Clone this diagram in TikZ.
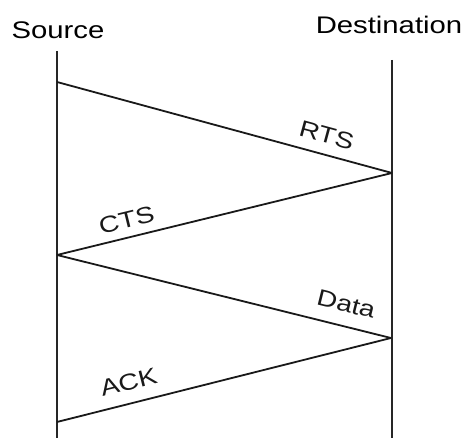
\documentclass[tikz,border=0pt]{standalone}
\usepackage{fontspec}
\setmainfont{Liberation Sans}
\newfontfamily\stretchfont[FakeStretch=1.22]{Liberation Sans}
\usepackage{tikz}
\usetikzlibrary{positioning}

\begin{document}
\begin{tikzpicture}[x=1pt,y=1pt,
  hdr/.style={font=\stretchfont\fontsize{24}{28}\selectfont,anchor=base,inner sep=0pt},
  lbl/.style={font=\stretchfont\fontsize{23}{26}\selectfont,sloped,above=7pt},
  life/.style={line width=2.2pt,black!85},
  msg/.style={line width=1.8pt,black!90}]
\useasboundingbox (0,0) rectangle (467,438);
% end points on the two time lines
\coordinate (s1) at (57,356);
\coordinate (d1) at (392,265);
\coordinate (s2) at (57,183);
\coordinate (d2) at (391,100);
\coordinate (s3) at (57,16);
\node[hdr] (src) at (58,399) {Source};
\node[hdr] (dst) at (389,404) {Destination};
\coordinate (srcend) at (57,0);
\coordinate (dstend) at (392,0);
\draw[life] (57,387) -- (srcend);
\draw[life] (392,378) -- (dstend);
% messages
\draw[msg] (s1) -- (d1) node[lbl,pos=0.79]{RTS};
\draw[msg] (s2) -- (d1) node[lbl,pos=0.22,above=5pt]{CTS};
\draw[msg] (s2) -- (d2) node[lbl,pos=0.85,above=10pt]{Data};
\draw[msg] (s3) -- (d2) node[lbl,pos=0.23,above=9pt]{ACK};
\end{tikzpicture}
\end{document}
